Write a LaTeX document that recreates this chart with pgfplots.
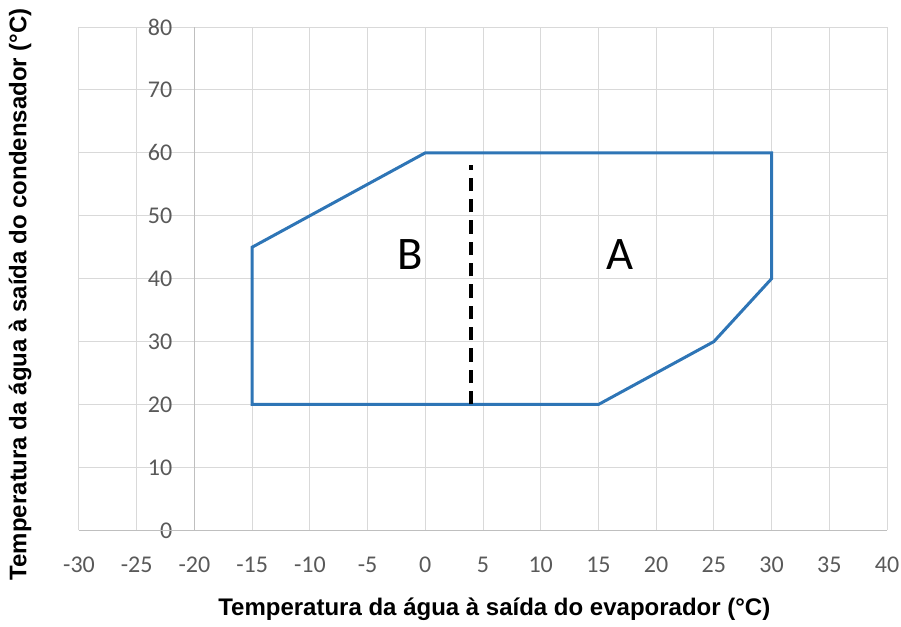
\documentclass[border=0pt]{standalone}
\usepackage{fontspec}
\setmainfont{Carlito}
\newfontfamily\titlefont{Liberation Sans}
\usepackage{pgfplots}
\pgfplotsset{compat=1.18}
\definecolor{excelblue}{HTML}{2E75B6}
\definecolor{gridgray}{HTML}{D9D9D9}
\definecolor{axgray}{HTML}{BFBFBF}
\definecolor{labgray}{HTML}{595959}
\begin{document}
\begin{tikzpicture}
\begin{axis}[
	name=ax,
	scale only axis,
	width=606pt, height=377.5pt,
	xmin=-30, xmax=40, ymin=0, ymax=80,
	xtick={-30,-25,...,40},
	ytick={0,10,...,80},
	grid=major,
	grid style={gridgray, line width=0.75pt},
	extra x ticks={-20}, extra x tick labels={},
	extra y ticks={0}, extra y tick labels={},
	extra tick style={grid style={axgray, line width=0.75pt}},
	axis line style={draw=none},
	major tick length=0,
	tick label style={font=\fontsize{18}{18}\selectfont, text=labgray},
	/pgf/number format/assume math mode=true,
	xticklabel style={yshift=-16.5pt},
	yticklabel style={anchor=east, xshift=73.5pt},
	clip=false,
]
% operating envelope
\addplot[excelblue, line width=2.25pt, line join=miter] coordinates {
	(0,20) (-15,20) (-15,45) (0,60) (30,60) (30,40) (25,30) (15,20) (0,20)
};
% B / A boundary
\addplot[black, line width=3pt, dash pattern=on 10pt off 6pt] coordinates {
	(4,20) (4,58)
};
\node[font=\fontsize{35}{35}\selectfont] at (axis cs:-1.3,43.8) {B};
\node[font=\fontsize{35}{35}\selectfont] at (axis cs:16.9,43.8) {A};
\node[font=\titlefont\bfseries\fontsize{18}{18}\selectfont]
	at ([yshift=-59.25pt]rel axis cs:0.514,0) {Temperatura da água à saída do evaporador (°C)};
\node[font=\titlefont\bfseries\fontsize{18}{18}\selectfont, rotate=90]
	at ([xshift=-44.25pt]rel axis cs:0,0.469) {Temperatura da água à saída do condensador (°C)};
\end{axis}
\pgfresetboundingbox
\path (ax.south west) ++(-59.25pt,-72pt) coordinate (bl);
\path (ax.north east) ++(10.5pt,20.25pt) coordinate (tr);
\path (bl) rectangle (tr);
\end{tikzpicture}
\end{document}
